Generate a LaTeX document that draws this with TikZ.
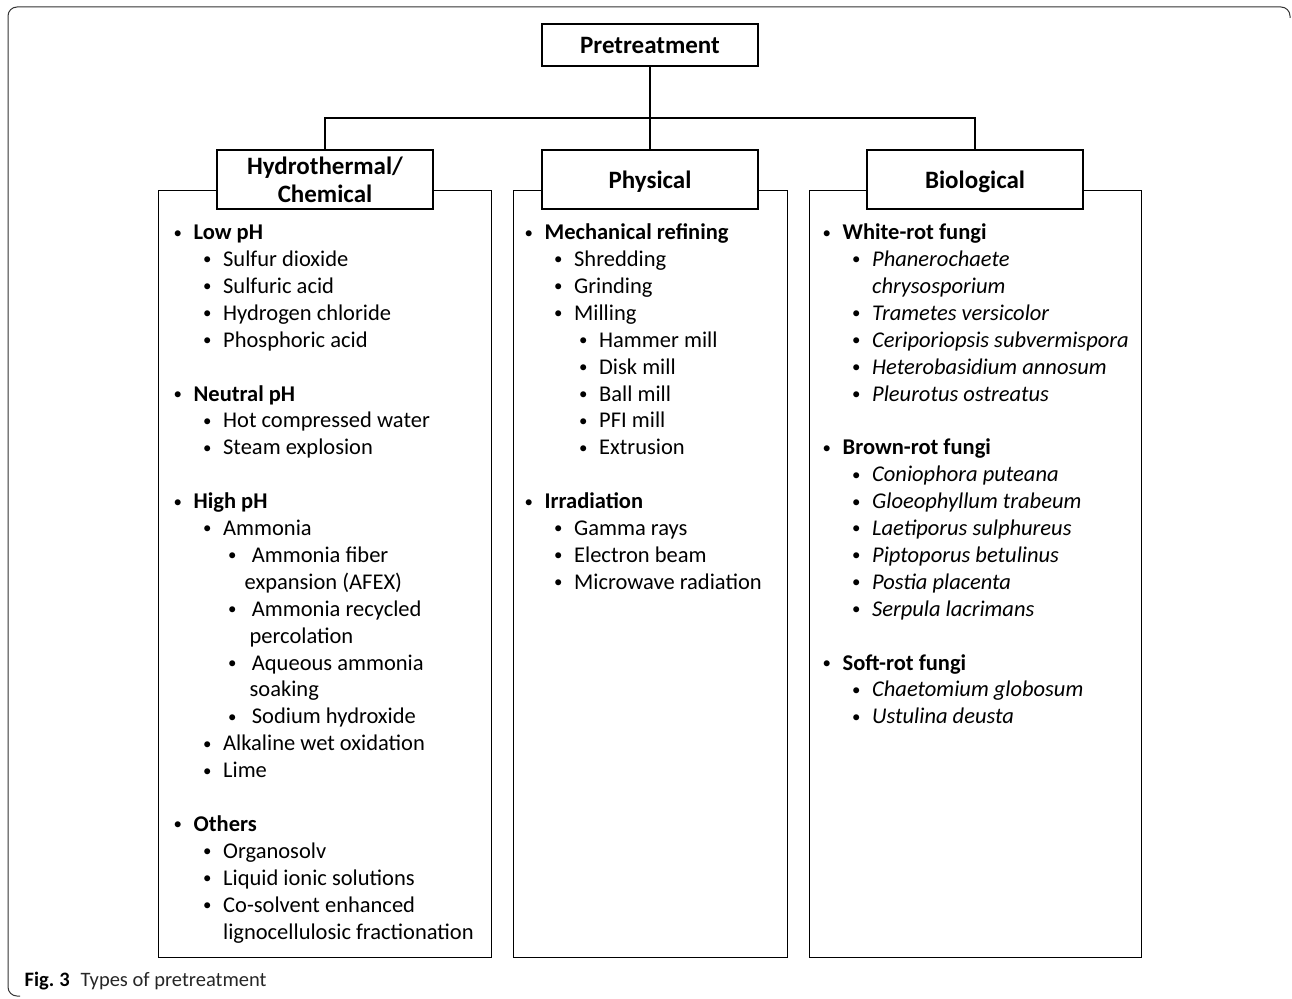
\documentclass[tikz,border=0pt]{standalone}
\usepackage{fontspec}
\usepackage{graphicx}
\setmainfont{Carlito}
\usetikzlibrary{positioning}
\newcommand\itm[2]{\hspace*{#1pt}\makebox[20pt][l]{\raisebox{1.6pt}{\scalebox{0.75}{\textbullet}}}#2}
\newcommand\cont[2]{\hspace*{#1pt}#2}

\begin{document}
\begin{tikzpicture}[
    x=1pt, y=-1pt, line width=1.3pt,
    head/.style={draw, fill=white, minimum width=216, align=center, text depth=-4pt,
      font=\fontsize{25}{28}\selectfont\bfseries},
    listbox/.style={draw, minimum height=767, anchor=north west},
    list/.style={anchor=base west, inner sep=0, align=left,
      font=\fontsize{22.5}{26.9}\selectfont},
  ]
  \useasboundingbox (0,0) rectangle (1292,998);

  % frame and caption
  \draw[line width=1pt, black!80, rounded corners=9] (1290,18) -- (1290,7) -- (8,7) -- (8,996) -- (20,996);
  \node[anchor=base west, inner sep=0, font=\fontsize{20.5}{22}\selectfont] (cap) at (24,986)
    {\textbf{Fig.\hspace{5pt}3}\hspace{11pt}\color{black!85}Types of pretreatment};

  % list boxes
  \node[listbox, minimum width=333] (hydbox) at (158,190) {};
  \node[listbox, minimum width=274] (physbox) at (513,190) {};
  \node[listbox, minimum width=332] (biobox) at (809,190) {};

  % headings
  \node[head, minimum height=42] (pre) at (650,45) {Pretreatment};
  \node[head, minimum height=59] (hyd) at (325,179.5) {Hydrothermal/\\Chemical};
  \node[head, minimum height=59] (phys) at (650,179.5) {Physical};
  \node[head, minimum height=59] (bio) at (975,179.5) {Biological};

  \coordinate (split) at (650,118);
  \draw (pre) -- (phys);
  \draw (hyd) |- (split) -| (bio);

  % lists (anchored at the baseline of their last line)
  \node[list] (hydlist) at (173,939) {%
    \itm{0}{\textbf{Low pH}}\\
    \itm{29.5}{Sulfur dioxide}\\
    \itm{29.5}{Sulfuric acid}\\
    \itm{29.5}{Hydrogen chloride}\\
    \itm{29.5}{Phosphoric acid}\\
    \mbox{}\\
    \itm{0}{\textbf{Neutral pH}}\\
    \itm{29.5}{Hot compressed water}\\
    \itm{29.5}{Steam explosion}\\
    \mbox{}\\
    \itm{0}{\textbf{High pH}}\\
    \itm{29.5}{Ammonia}\\
    \itm{54.5}{\,Ammonia fiber}\\
    \cont{71}{expansion (AFEX)}\\
    \itm{54.5}{\,Ammonia recycled}\\
    \cont{76}{percolation}\\
    \itm{54.5}{\,Aqueous ammonia}\\
    \cont{76}{soaking}\\
    \itm{54.5}{\,Sodium hydroxide}\\
    \itm{29.5}{Alkaline wet oxidation}\\
    \itm{29.5}{Lime}\\
    \mbox{}\\
    \itm{0}{\textbf{Others}}\\
    \itm{29.5}{Organosolv}\\
    \itm{29.5}{Liquid ionic solutions}\\
    \itm{29.5}{Co-solvent enhanced}\\
    \cont{49.5}{lignocellulosic fractionation}};

  \node[list] (physlist) at (524,589.3) {%
    \itm{0}{\textbf{Mechanical refining}}\\
    \itm{29.5}{Shredding}\\
    \itm{29.5}{Grinding}\\
    \itm{29.5}{Milling}\\
    \itm{54.5}{Hammer mill}\\
    \itm{54.5}{Disk mill}\\
    \itm{54.5}{Ball mill}\\
    \itm{54.5}{PFI mill}\\
    \itm{54.5}{Extrusion}\\
    \mbox{}\\
    \itm{0}{\textbf{Irradiation}}\\
    \itm{29.5}{Gamma rays}\\
    \itm{29.5}{Electron beam}\\
    \itm{29.5}{Microwave radiation}};

  \node[list] (biolist) at (822,723.8) {%
    \itm{0}{\textbf{White-rot fungi}}\\
    \itm{29.5}{\textit{Phanerochaete}}\\
    \cont{49.5}{\textit{chrysosporium}}\\
    \itm{29.5}{\textit{Trametes versicolor}}\\
    \itm{29.5}{\textit{Ceriporiopsis subvermispora}}\\
    \itm{29.5}{\textit{Heterobasidium annosum}}\\
    \itm{29.5}{\textit{Pleurotus ostreatus}}\\
    \mbox{}\\
    \itm{0}{\textbf{Brown-rot fungi}}\\
    \itm{29.5}{\textit{Coniophora puteana}}\\
    \itm{29.5}{\textit{Gloeophyllum trabeum}}\\
    \itm{29.5}{\textit{Laetiporus sulphureus}}\\
    \itm{29.5}{\textit{Piptoporus betulinus}}\\
    \itm{29.5}{\textit{Postia placenta}}\\
    \itm{29.5}{\textit{Serpula lacrimans}}\\
    \mbox{}\\
    \itm{0}{\textbf{Soft-rot fungi}}\\
    \itm{29.5}{\textit{Chaetomium globosum}}\\
    \itm{29.5}{\textit{Ustulina deusta}}};

\end{tikzpicture}
\end{document}
